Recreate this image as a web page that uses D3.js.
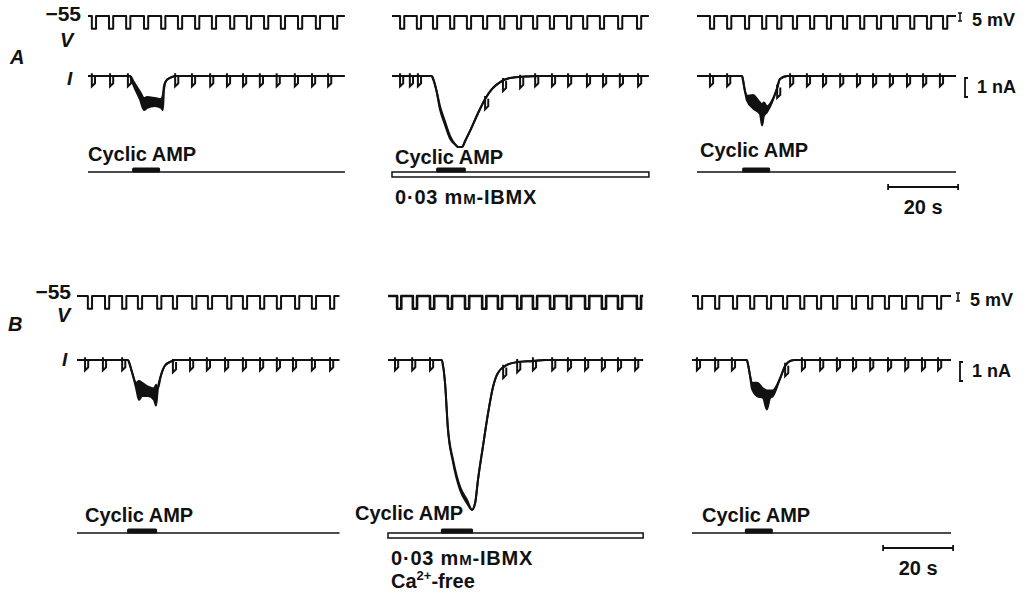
<!DOCTYPE html>
<html>
<head>
<meta charset="utf-8">
<script src="https://cdn.jsdelivr.net/npm/d3@7/dist/d3.min.js"></script>
<style>
  body { margin: 0; background: #fff; }
  svg text { font-family: "Liberation Sans", Arial, sans-serif; font-weight: bold; fill: #111; }
</style>
</head>
<body>
<svg id="fig" width="1032" height="595"></svg>
<script>
// Times in s from the start of each sweep, current in nA, voltage in mV.
var panelIds = ["A1", "A2", "A3", "B1", "B2", "B3"];
var sweepEnd = [73.4, 73.4, 74.0, 75.0, 72.9, 74.0];

// voltage command pulses (s)
var vPulsesA1 = [1.1, 6.0, 10.9, 16.0, 20.9, 25.7, 30.6, 35.4, 40.6, 45.4, 50.3, 55.1, 60.0, 65.1, 70.0];
var vPulsesA2 = [2.3, 7.1, 11.7, 16.6, 21.4, 26.0, 30.9, 35.7, 40.3, 45.1, 50.0, 54.6, 59.4, 64.6, 70.0];
var vPulsesA3 = [3.7, 8.6, 13.7, 18.6, 22.9, 27.4, 32.3, 37.1, 41.7, 46.6, 51.4, 56.0, 60.9, 65.7, 70.3];
var vPulsesB1 = [3.1, 8.0, 12.9, 17.4, 22.9, 27.4, 32.9, 37.4, 42.9, 47.4, 52.3, 57.1, 62.3, 67.1, 72.3];
var vPulsesB2 = [2.6, 7.1, 12.0, 17.1, 22.0, 26.9, 31.4, 36.9, 41.4, 46.3, 51.1, 56.3, 61.1, 65.7, 71.1];
var vPulsesB3 = [1.7, 6.6, 11.7, 16.6, 21.4, 26.0, 30.9, 35.7, 40.3, 45.7, 50.3, 55.1, 60.0, 64.6, 70.0];

// current responses to the pulses that can be seen: [t, level nA]
var iPulsesA1 = [[1.1, 0], [6.3, 0], [11.4, 0], [24.9, 0], [29.7, 0], [34.9, 0], [39.7, 0], [44.3, 0], [49.1, 0], [53.9, 0], [59.1, 0], [64.0, 0], [68.6, 0]];
var iPulsesA2 = [[2.3, 0], [5.1, 0], [7.4, 0], [26.6, -1.2], [31.7, -0.25], [36.6, -0.08], [40.9, 0], [45.7, 0], [50.3, 0], [55.7, 0], [60.3, 0], [65.1, 0], [70.3, 0]];
var iPulsesA3 = [[3.7, 0], [8.6, 0], [22.9, -0.6], [26.6, 0], [31.4, 0], [36.0, 0], [40.9, 0], [45.7, 0], [50.3, 0], [55.1, 0], [60.0, 0], [64.6, 0], [69.4, 0]];
var iPulsesB1 = [[2.3, 0], [7.4, 0], [12.9, 0], [27.4, -0.1], [32.3, 0], [37.1, 0], [42.3, 0], [47.4, 0], [52.3, 0], [57.1, 0], [61.7, 0], [67.1, 0], [72.3, 0]];
var iPulsesB2 = [[2.0, 0], [6.9, 0], [12.0, 0], [32.9, -0.4], [36.9, -0.1], [41.4, 0], [46.9, 0], [51.4, 0], [56.3, 0], [61.1, 0], [65.7, 0], [70.6, 0]];
var iPulsesB3 = [[1.4, 0], [6.6, 0], [11.4, 0], [26.6, -0.3], [31.4, 0], [36.6, 0], [41.4, 0], [46.0, 0], [50.9, 0], [56.0, 0], [60.9, 0], [65.7, 0], [70.3, 0]];

// inward current evoked by cyclic AMP: [t, upper edge nA, lower edge nA]
var dipA1 = [[12.0, 0, 0], [13.1, -0.32, -0.53], [14.9, -0.84, -1.26], [16.0, -1.16, -1.79], [16.9, -1.11, -1.68],
  [19.1, -1.16, -1.58], [20.9, -1.21, -1.68], [21.4, -1.0, -1.79], [21.7, -0.53, -0.74], [22.3, -0.26, -0.26],
  [23.4, -0.1, -0.1], [25.1, 0, 0]];
var dipA2 = [[11.4, 0, 0], [12.6, -0.68, -0.68], [13.7, -1.58, -1.75], [15.1, -2.37, -2.55], [16.6, -3.16, -3.3],
  [18.0, -3.58, -3.6], [18.9, -3.74, -3.74], [20.0, -3.74, -3.74], [20.9, -3.42, -3.42], [22.3, -2.89, -2.89],
  [24.6, -1.95, -1.95], [26.6, -1.21, -1.21], [28.6, -0.68, -0.68], [30.9, -0.32, -0.32], [33.7, -0.11, -0.11],
  [38.0, -0.03, -0.03], [42.3, 0, 0]];
var dipA3 = [[12.9, 0, 0], [13.7, -0.79, -0.79], [14.3, -1.05, -1.3], [16.0, -1.0, -1.7], [18.0, -1.4, -2.0],
  [18.6, -1.5, -2.6], [19.1, -1.4, -2.1], [20.0, -1.6, -1.9], [21.4, -1.3, -1.4], [22.9, -0.63, -0.63],
  [23.7, -0.16, -0.16], [25.7, 0, 0]];
var dipB1 = [[14.6, 0, 0], [15.7, -0.63, -0.63], [16.9, -1.2, -1.5], [17.7, -1.1, -2.1], [18.6, -1.2, -1.9],
  [20.3, -1.4, -1.9], [22.0, -1.5, -2.1], [22.6, -1.3, -2.4], [23.1, -1.5, -1.5], [24.0, -0.8, -0.8],
  [25.1, -0.3, -0.3], [26.6, -0.1, -0.1], [28.0, 0, 0]];
var dipB2 = [[15.4, 0, 0], [16.3, -1.21, -1.21], [17.1, -3.53, -3.6], [18.6, -5.26, -5.4], [20.6, -6.68, -6.85],
  [22.6, -7.37, -7.55], [24.0, -7.89, -7.89], [24.9, -7.53, -7.53], [25.7, -6.32, -6.32], [27.1, -4.58, -4.58],
  [28.6, -2.79, -2.79], [30.0, -1.42, -1.42], [31.4, -0.68, -0.68], [34.0, -0.26, -0.26], [36.9, -0.11, -0.11],
  [41.4, -0.05, -0.05], [44.9, 0, 0]];
var dipB3 = [[15.7, 0, 0], [16.6, -0.84, -0.84], [17.1, -1.2, -1.5], [18.6, -1.2, -1.9], [20.3, -1.5, -2.0],
  [21.4, -1.6, -2.6], [22.3, -1.6, -2.0], [23.1, -1.6, -1.9], [25.1, -1.0, -1.0], [26.6, -0.32, -0.32],
  [28.0, -0.05, -0.05], [29.4, 0, 0]];

// cyclic AMP application (s) and bath conditions
var campTimes = [[12.6, 20.6], [12.6, 21.1], [12.9, 20.9], [14.3, 22.9], [15.1, 24.3], [15.1, 23.1]];
var ibmxBath = [false, true, false, false, true, false];
var scaleBarTime = [54.6, 74.6];   // 20 s

// constants of the recording
var vHold = -55, vStep = -8, vWidth = 1.2;
var iStep = -0.55, iSpike = 0.15, iWidth = 0.9;

// layout
var panelX = [88, 392, 697, 77, 388, 692];
var rows = {
  A: { v: 16, i: 76, bar: 172, camp: [161, 164, 157] },
  B: { v: 296, i: 360, bar: 533, camp: [522, 520, 522] }
};
var campX = [88, 395, 700, 85, 355, 702];
var sweepW = 259, tSpan = 74;

var svg = d3.select("#fig");
var ink = "#111";

var panels = panelIds.map(function(id, k) {
  return {
    id: id, row: id[0], col: k % 3, x0: panelX[k], end: sweepEnd[k],
    vPulses: [vPulsesA1, vPulsesA2, vPulsesA3, vPulsesB1, vPulsesB2, vPulsesB3][k],
    iPulses: [iPulsesA1, iPulsesA2, iPulsesA3, iPulsesB1, iPulsesB2, iPulsesB3][k],
    dip: [dipA1, dipA2, dipA3, dipB1, dipB2, dipB3][k],
    camp: campTimes[k], ibmx: ibmxBath[k], campX: campX[k]
  };
});

panels.forEach(function(p) {
  var r = rows[p.row];
  var x = d3.scaleLinear().domain([0, tSpan]).range([p.x0, p.x0 + sweepW]);
  var yV = d3.scaleLinear().domain([-65, -55]).range([r.v + 16, r.v]);
  var yI = d3.scaleLinear().domain([-8, 0]).range([r.i + 152, r.i]);
  var g = svg.append("g").attr("class", "panel-" + p.id);

  // voltage trace
  var vPts = [[0, vHold]];
  p.vPulses.forEach(function(t) {
    vPts.push([t, vHold], [t, vHold + vStep], [t + vWidth, vHold + vStep], [t + vWidth, vHold]);
  });
  vPts.push([p.end, vHold]);
  g.append("path")
    .attr("d", d3.line().x(function(d) { return x(d[0]); }).y(function(d) { return yV(d[1]); })(vPts))
    .attr("fill", "none").attr("stroke", ink)
    .attr("stroke-width", p.id == "B2" ? 2.6 : 2).attr("stroke-linejoin", "round");

  // current trace
  var hi = [[0, 0, 0]].concat(p.dip).concat([[p.end, 0, 0]]);
  var curve = d3.curveMonotoneX;
  g.append("path")
    .attr("d", d3.area().curve(curve)
      .x(function(d) { return x(d[0]); })
      .y0(function(d) { return yI(d[2]); })
      .y1(function(d) { return yI(d[1]); })(p.dip))
    .attr("fill", ink);
  g.append("path")
    .attr("d", d3.line().curve(curve).x(function(d) { return x(d[0]); }).y(function(d) { return yI(d[1]); })(hi))
    .attr("fill", "none").attr("stroke", ink).attr("stroke-width", 2);
  g.append("path")
    .attr("d", d3.line().curve(curve).x(function(d) { return x(d[0]); }).y(function(d) { return yI(d[2]); })(p.dip))
    .attr("fill", "none").attr("stroke", ink).attr("stroke-width", 2);

  g.selectAll("path.ip").data(p.iPulses).enter().append("path")
    .attr("class", "ip")
    .attr("d", function(d) {
      var t = d[0], lv = d[1];
      return "M" + x(t) + "," + yI(lv + iSpike) +
        "L" + x(t) + "," + yI(lv + iStep) +
        "L" + x(t + iWidth) + "," + yI(lv + iStep * 0.7) +
        "L" + x(t + iWidth) + "," + yI(lv);
    })
    .attr("fill", "none").attr("stroke", ink).attr("stroke-width", 2);

  // application bars
  if (p.ibmx) {
    g.append("rect")
      .attr("x", x(0)).attr("y", r.bar)
      .attr("width", x(p.end) - x(0)).attr("height", 5)
      .attr("fill", "#fff").attr("stroke", ink).attr("stroke-width", 1.5);
  } else {
    g.append("line")
      .attr("x1", x(0)).attr("x2", x(p.end))
      .attr("y1", r.bar).attr("y2", r.bar)
      .attr("stroke", ink).attr("stroke-width", 1.6);
  }
  g.append("rect")
    .attr("x", x(p.camp[0])).attr("y", r.bar - 4.5)
    .attr("width", x(p.camp[1]) - x(p.camp[0])).attr("height", 5)
    .attr("rx", 1.5).attr("fill", ink);

  g.append("text")
    .attr("x", p.campX).attr("y", r.camp[p.col])
    .attr("font-size", 20).text("Cyclic AMP");

  if (p.ibmx) {
    var t1 = g.append("text").attr("x", p.x0 + 3).attr("y", r.bar + 32)
      .attr("font-size", 20).attr("letter-spacing", 0.8);
    t1.append("tspan").text("0·03 m");
    t1.append("tspan").attr("font-size", 15).text("M");
    t1.append("tspan").text("-IBMX");
  }
  if (p.id == "B2") {
    var t2 = g.append("text").attr("x", p.x0 + 3).attr("y", r.bar + 55).attr("font-size", 20);
    t2.append("tspan").text("Ca");
    t2.append("tspan").attr("font-size", 13).attr("dy", -8).text("2+");
    t2.append("tspan").attr("dy", 8).text("-free");
  }

  // calibration bars on the right-hand panels
  if (p.col == 2) {
    var cx = p.row == "A" ? 960 : 958;
    var vTop = r.v - 3, vBot = vTop + (yV(-60) - yV(-55));
    svg.append("path")
      .attr("d", "M" + (cx - 2) + "," + vTop + "H" + (cx + 2) + "M" + cx + "," + vTop + "V" + vBot +
        "M" + (cx - 2) + "," + vBot + "H" + (cx + 2))
      .attr("fill", "none").attr("stroke", ink).attr("stroke-width", 1.5);
    svg.append("text").attr("x", cx + 12).attr("y", r.v + 10).attr("font-size", 18).text("5 mV");

    var ix = p.row == "A" ? 965 : 960;
    var iTop = r.i + 2, iBot = iTop + (yI(-1) - yI(0));
    svg.append("path")
      .attr("d", "M" + (ix + 3) + "," + iTop + "H" + ix + "V" + iBot + "H" + (ix + 3))
      .attr("fill", "none").attr("stroke", ink).attr("stroke-width", 1.8);
    svg.append("text").attr("x", ix + 12).attr("y", r.i + 17).attr("font-size", 18).text("1 nA");

    var sy = p.row == "A" ? 187 : 548;
    var sx0 = x(scaleBarTime[0]), sx1 = x(scaleBarTime[1]);
    svg.append("path")
      .attr("d", "M" + sx0 + "," + (sy - 3) + "V" + (sy + 3) + "M" + sx0 + "," + sy + "H" + sx1 +
        "M" + sx1 + "," + (sy - 3) + "V" + (sy + 3))
      .attr("fill", "none").attr("stroke", ink).attr("stroke-width", 1.8);
    svg.append("text").attr("x", (sx0 + sx1) / 2).attr("y", sy + 27)
      .attr("text-anchor", "middle").attr("font-size", 20).text("20 s");
  }
});

// row labels
function rowLabels(row, letterX, letterY, numX, numY, vx, vy, ix, iy) {
  svg.append("text").attr("x", letterX).attr("y", letterY).attr("font-size", 20)
    .attr("font-style", "italic").text(row);
  svg.append("text").attr("x", numX).attr("y", numY).attr("font-size", 21)
    .attr("text-anchor", "end").text("\u221255");
  svg.append("text").attr("x", vx).attr("y", vy).attr("font-size", 20)
    .attr("font-style", "italic").text("V");
  svg.append("text").attr("x", ix).attr("y", iy).attr("font-size", 19)
    .attr("font-style", "italic").text("I");
}
rowLabels("A", 10, 64, 81, 21, 60, 47, 67, 85);
rowLabels("B", 8, 331, 71, 299, 57, 322, 62, 366);
</script>
</body>
</html>
